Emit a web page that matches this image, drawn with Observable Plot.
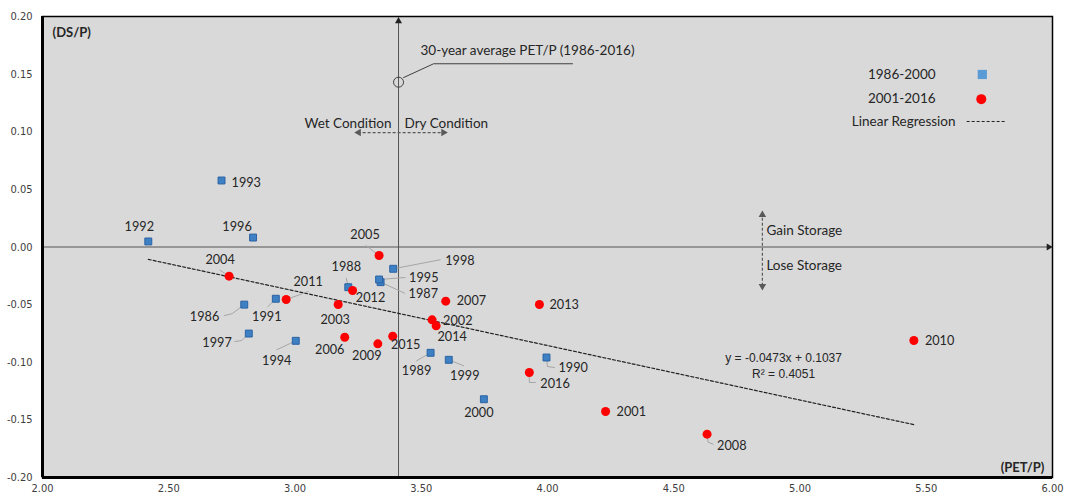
<!DOCTYPE html>
<html><head><meta charset="utf-8">
<script src="https://cdn.jsdelivr.net/npm/d3@7"></script>
<script src="https://cdn.jsdelivr.net/npm/@observablehq/plot@0.6"></script>
<style>
body{margin:0;background:#fff;}
#chart svg{display:block;}
</style></head><body><div id="chart"></div>
<script>
// ---- data ----
const years1 = [1986,1987,1988,1989,1990,1991,1992,1993,1994,1995,1996,1997,1998,1999,2000];
const petp1  = [2.799,3.339,3.211,3.537,3.996,2.924,2.419,2.709,3.003,3.333,2.834,2.817,3.389,3.609,3.748];
const dsp1   = [-0.050,-0.0305,-0.0349,-0.0918,-0.0959,-0.0449,0.0048,0.0577,-0.0814,-0.0282,0.0082,-0.0751,-0.0189,-0.0979,-0.1321];
const years2 = [2001,2002,2003,2004,2005,2006,2007,2008,2009,2010,2011,2012,2013,2014,2015,2016];
const petp2  = [4.230,3.543,3.171,2.739,3.333,3.197,3.597,4.632,3.328,5.451,2.965,3.228,3.968,3.559,3.387,3.928];
const dsp2   = [-0.1427,-0.0632,-0.0499,-0.0253,-0.0074,-0.0783,-0.0470,-0.1624,-0.0840,-0.0811,-0.0456,-0.0377,-0.0499,-0.0684,-0.0774,-0.1089];
const groupNames = ["1986-2000","2001-2016"];
const regSlope = -0.0473, regIntercept = 0.1037, regR2 = 0.4051;
const avgPETP = 3.41, avgDSP = 0.143;
const xTicks = [2,2.5,3,3.5,4,4.5,5,5.5,6];
const yTicks = [-0.2,-0.15,-0.1,-0.05,0,0.05,0.1,0.15,0.2];

// label layout: year, dx(px), dy(px), anchor, leader elbow/end points (px offsets)
const labelLayout = [
 [1986,-25,12,"end",[[-12,9],[-20,11]]],
 [1987,28,12,"start",[[24,11]]],
 [1988,-2,-20,"middle",[[-2,-9]]],
 [1989,-14,18,"middle",[[-14,8]]],
 [1990,12,10,"start",[[1,9],[8,10]]],
 [1991,-9,18,"middle",[[-8,8]]],
 [1992,-9,-15,"middle",[]],
 [1993,10,2,"start",[]],
 [1994,-19,20,"middle",[[-19,9]]],
 [1995,30,-2,"start",[[26,-2]]],
 [1996,-16,-11,"middle",[]],
 [1997,-17,9,"end",[[-7,7],[-14,8]]],
 [1998,52,-8,"start",[[47,-9]]],
 [1999,16,16,"middle",[[15,6]]],
 [2000,-5,14,"middle",[]],
 [2001,11,0,"start",[]],
 [2002,11,1,"start",[]],
 [2003,-3,15,"middle",[]],
 [2004,-9,-16,"middle",[[-9,-6]]],
 [2005,-14,-21,"middle",[[-13,-10]]],
 [2006,-15,13,"middle",[]],
 [2007,11,0,"start",[]],
 [2008,10,12,"start",[[1,8],[6,10]]],
 [2009,-11,12,"middle",[]],
 [2010,11,0,"start",[]],
 [2011,22,-18,"middle",[[22,-8]]],
 [2012,18,7,"middle",[]],
 [2013,10,0,"start",[]],
 [2014,16,11,"middle",[]],
 [2015,13,9,"middle",[]],
 [2016,11,11,"start",[[0,10],[6,10]]]
];

// ---- build ----
const W = 1073, H = 500, mL = 42, mR = 21, mT = 16, mB = 23;
const xDomain = [2, 6], yDomain = [-0.2, 0.2];
const kx = (xDomain[1]-xDomain[0])/(W-mL-mR);
const ky = (yDomain[1]-yDomain[0])/(H-mT-mB);

const pts = [
  ...years1.map((yr,i)=>({year:yr, x:petp1[i], y:dsp1[i], group:groupNames[0]})),
  ...years2.map((yr,i)=>({year:yr, x:petp2[i], y:dsp2[i], group:groupNames[1]}))
];
const byYear = new Map(pts.map(d=>[d.year,d]));
const labels = labelLayout.map(([yr,dx,dy,anchor])=>{
  const p = byYear.get(yr);
  return {text:String(yr), x:p.x+dx*kx, y:p.y-dy*ky, anchor};
});
const leaders = [];
labelLayout.forEach(([yr,,, ,pl])=>{
  if(!pl.length) return;
  const p = byYear.get(yr);
  leaders.push({id:yr, x:p.x, y:p.y});
  pl.forEach(([dx,dy])=>leaders.push({id:yr, x:p.x+dx*kx, y:p.y-dy*ky}));
});
const xExt = d3.extent(pts, d=>d.x);
const reg = xExt.map(x=>({x, y:regSlope*x+regIntercept}));

const fmt = d => d.toFixed(2);
const axisFont = "'Liberation Sans Narrow','DejaVu Sans Condensed','Liberation Sans',sans-serif";
const F = "Lato, 'Open Sans', sans-serif";
const dark = "#404040";
const AF = 13.5;

const chart = Plot.plot({
  width: W, height: H,
  marginLeft: mL, marginRight: mR, marginTop: mT, marginBottom: mB,
  x: {domain: xDomain}, y: {domain: yDomain},
  style: {fontFamily: F, fontSize: "12px", color: "#262626", background: "white"},
  marks: [
    Plot.frame({fill: "#d9d9d9"}),
    Plot.axisX({ticks: xTicks, tickFormat: fmt, tickSize: 0, tickPadding: 7, label: null, fontFamily: axisFont, fontSize: 11, fill: "#404040"}),
    Plot.axisY({ticks: yTicks, tickFormat: fmt, tickSize: 0, tickPadding: 10, label: null, fontFamily: axisFont, fontSize: 11, fill: "#404040"}),
    // central axes
    Plot.ruleY([0], {x1: xDomain[0], x2: 5.985, stroke: "#555", strokeWidth: 1}),
    Plot.dot([{x: 5.985, y: 0}], {x: "x", y: "y", symbol: "triangle", r: 2.6, rotate: 90, fill: "#222", stroke: "none"}),
    Plot.ruleX([avgPETP], {y1: yDomain[0], y2: 0.197, stroke: "#555", strokeWidth: 1}),
    Plot.dot([{x: avgPETP, y: 0.196}], {x: "x", y: "y", symbol: "triangle", r: 2.6, fill: "#222", stroke: "none"}),
    // regression
    Plot.line(reg, {x: "x", y: "y", stroke: "#222", strokeWidth: 1.2, strokeDasharray: "3,2"}),
    // leaders
    Plot.line(leaders, {x: "x", y: "y", z: "id", stroke: "#a6a6a6", strokeWidth: 1}),
    // points
    Plot.dot(pts.filter(d=>d.group===groupNames[0]), {x: "x", y: "y", symbol: "square", r: 3.9, fill: "#3d80c4", stroke: "#2a62a3", strokeWidth: 1}),
    Plot.dot(pts.filter(d=>d.group===groupNames[1]), {x: "x", y: "y", r: 4.5, fill: "#ff0000", stroke: "none"}),
    // labels
    ...["start","middle","end"].map(a => Plot.text(labels.filter(d=>d.anchor===a), {x: "x", y: "y", text: "text", textAnchor: a, fontSize: 12.7, fill: "#262626"})),
    // average annotation
    Plot.dot([{x: avgPETP, y: avgDSP}], {x: "x", y: "y", r: 5, stroke: dark, fill: "none", strokeWidth: 1}),
    Plot.line([{x: avgPETP+0.02, y: avgDSP+0.004}, {x: 3.549, y: 0.159}, {x: 4.099, y: 0.159}], {x: "x", y: "y", stroke: dark, strokeWidth: 1}),
    Plot.text([{x: 3.497, y: 0.1705, t: "30-year average PET/P (1986-2016)"}], {x: "x", y: "y", text: "t", textAnchor: "start", fontSize: AF, fill: "#262626"}),
    // wet / dry
    Plot.text([{x: 3.382, y: 0.107, t: "Wet Condition"}], {x: "x", y: "y", text: "t", textAnchor: "end", fontSize: AF, fill: "#262626"}),
    Plot.text([{x: 3.434, y: 0.107, t: "Dry Condition"}], {x: "x", y: "y", text: "t", textAnchor: "start", fontSize: AF, fill: "#262626"}),
    Plot.ruleY([0.0993], {x1: 3.25, x2: 3.59, stroke: "#595959", strokeWidth: 1.2, strokeDasharray: "3,2"}),
    Plot.dot([{x: 3.252, y: 0.0993, r: -90}, {x: 3.588, y: 0.0993, r: 90}], {x: "x", y: "y", symbol: "triangle", r: 2.8, rotate: "r", fill: "#595959", stroke: "none"}),
    // gain / lose
    Plot.ruleX([4.851], {y1: -0.034, y2: 0.028, stroke: "#595959", strokeWidth: 1.2, strokeDasharray: "3,2"}),
    Plot.dot([{x: 4.851, y: 0.028, r: 0}, {x: 4.851, y: -0.034, r: 180}], {x: "x", y: "y", symbol: "triangle", r: 2.8, rotate: "r", fill: "#595959", stroke: "none"}),
    Plot.text([{x: 4.867, y: 0.0143, t: "Gain Storage"}, {x: 4.867, y: -0.0161, t: "Lose Storage"}], {x: "x", y: "y", text: "t", textAnchor: "start", fontSize: AF, fill: "#262626"}),
    // regression equation
    Plot.text([{x: 4.935, y: -0.0967, t: `y = ${regSlope}x + ${regIntercept}`}, {x: 4.935, y: -0.110, t: `R² = ${regR2}`}], {x: "x", y: "y", text: "t", textAnchor: "middle", fontFamily: "'Liberation Sans', Arial, sans-serif", fontSize: 12, fill: "#262626"}),
    // legend
    Plot.text([{x: 5.537, y: 0.1497, t: groupNames[0]}, {x: 5.537, y: 0.1283, t: groupNames[1]}, {x: 5.616, y: 0.1089, t: "Linear Regression"}], {x: "x", y: "y", text: "t", textAnchor: "end", fontSize: AF, fill: "#262626"}),
    Plot.dot([{x: 5.722, y: 0.1497}], {x: "x", y: "y", symbol: "square", r: 5.2, fill: "#5b9bd5", stroke: "none"}),
    Plot.dot([{x: 5.718, y: 0.1283}], {x: "x", y: "y", r: 5, fill: "#ff0000", stroke: "none"}),
    Plot.ruleY([0.1089], {x1: 5.662, x2: 5.814, stroke: "#222", strokeWidth: 1, strokeDasharray: "3,2"}),
    // axis titles
    Plot.text([{x: 2.04, y: 0.186, t: "(DS/P)"}], {x: "x", y: "y", text: "t", textAnchor: "start", fontSize: 13, fontWeight: "bold", fill: "#262626"}),
    Plot.text([{x: 5.968, y: -0.1913, t: "(PET/P)"}], {x: "x", y: "y", text: "t", textAnchor: "end", fontSize: 13, fontWeight: "bold", fill: "#262626"}),
    // frame borders
    Plot.frame({stroke: "black", strokeWidth: 1.5}),
    Plot.ruleX([xDomain[0]], {stroke: "black", strokeWidth: 3}),
    Plot.ruleY([yDomain[0]], {stroke: "black", strokeWidth: 3})
  ]
});
document.getElementById("chart").appendChild(chart);
</script>
</body></html>
